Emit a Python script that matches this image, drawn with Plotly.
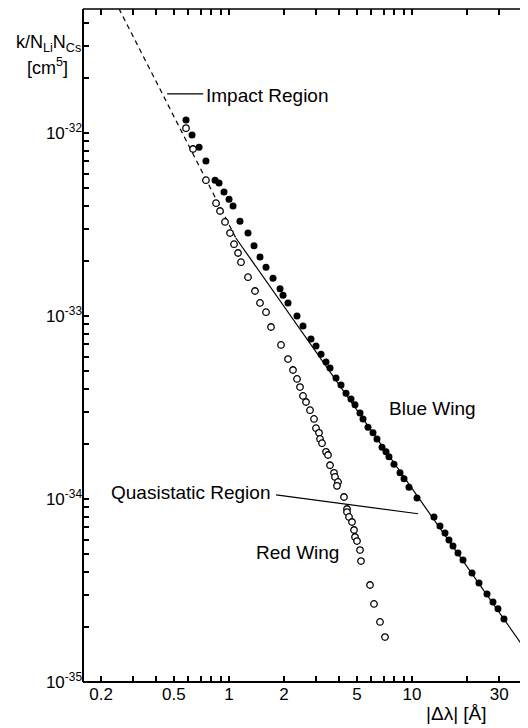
import plotly.graph_objects as go

# ---- data ----
blue_dl = [0.582, 0.628, 0.686, 0.748, 0.839, 0.882, 0.939, 1.0, 1.052, 1.148,
           1.270, 1.370, 1.477, 1.593, 1.740, 1.900, 1.973, 2.101, 2.353, 2.537,
           2.806, 2.988, 3.183, 3.389, 3.564, 3.844, 4.093, 4.359, 4.642, 4.881,
           5.198, 5.398, 5.748, 6.122, 6.436, 6.857, 7.210, 7.486, 7.972, 8.600,
           9.044, 9.630, 10.65, 13.19, 14.22, 15.15, 15.93, 16.75, 17.84, 19.00,
           21.28, 23.24, 25.70, 27.71, 29.51, 31.82]
blue_k = [1.178e-32, 9.75e-33, 8.37e-33, 7.03e-33, 5.53e-33, 5.33e-33, 4.76e-33, 4.35e-33, 3.99e-33, 3.30e-33,
          2.84e-33, 2.42e-33, 2.10e-33, 1.85e-33, 1.61e-33, 1.41e-33, 1.30e-33, 1.18e-33, 1.00e-33, 8.81e-34,
          7.48e-34, 6.86e-34, 6.19e-34, 5.61e-34, 5.20e-34, 4.58e-34, 4.20e-34, 3.79e-34, 3.52e-34, 3.27e-34,
          2.95e-34, 2.74e-34, 2.47e-34, 2.30e-34, 2.13e-34, 1.92e-34, 1.81e-34, 1.70e-34, 1.55e-34, 1.39e-34,
          1.29e-34, 1.16e-34, 1.012e-34, 7.98e-35, 7.12e-35, 6.52e-35, 5.97e-35, 5.53e-35, 5.07e-35, 4.64e-35,
          3.94e-35, 3.48e-35, 3.03e-35, 2.74e-35, 2.51e-35, 2.21e-35]

red_dl = [0.582, 0.636, 0.748, 0.849, 0.893, 0.951, 1.013, 1.065, 1.120, 1.163,
          1.270, 1.387, 1.477, 1.593, 1.696, 1.924, 2.101, 2.237, 2.353, 2.443,
          2.537, 2.635, 2.771, 2.914, 2.988, 3.103, 3.143, 3.223, 3.389, 3.475,
          3.564, 3.748, 3.795, 3.941, 3.892, 4.250, 4.413, 4.413, 4.526, 4.700,
          4.820, 4.881, 5.006, 5.198, 5.265, 5.895, 6.199, 6.685, 7.119]
red_k = [1.064e-32, 8.18e-33, 5.53e-33, 4.14e-33, 3.75e-33, 3.27e-33, 2.84e-33, 2.47e-33, 2.21e-33, 1.97e-33,
         1.63e-33, 1.37e-33, 1.18e-33, 1.05e-33, 8.71e-34, 6.95e-34, 5.82e-34, 5.07e-34, 4.53e-34, 4.09e-34,
         3.66e-34, 3.39e-34, 3.06e-34, 2.74e-34, 2.44e-34, 2.30e-34, 2.13e-34, 2.02e-34, 1.81e-34, 1.74e-34,
         1.53e-34, 1.39e-34, 1.32e-34, 1.24e-34, 1.18e-34, 1.026e-34, 8.82e-35, 8.49e-35, 7.98e-35, 7.49e-35,
         6.77e-35, 6.20e-35, 5.89e-35, 5.26e-35, 4.58e-35, 3.39e-35, 2.67e-35, 2.13e-35, 1.76e-35]

impact_dl = [0.25, 1.09]
impact_k = [4.8e-32, 2.67e-33]
quasi_dl = [1.09, 44.0]
quasi_k = [2.67e-33, 1.39e-35]

x_major = [0.2, 0.5, 1, 2, 5, 10, 30]
x_major_text = ["0.2", "0.5", "1", "2", "5", "10", "30"]
x_minor = [0.3, 0.4, 0.6, 0.7, 0.8, 0.9, 3, 4, 6, 7, 8, 9, 20]
y_major = [1e-35, 1e-34, 1e-33, 1e-32]
y_major_text = ["10<sup>-35</sup>", "10<sup>-34</sup>", "10<sup>-33</sup>", "10<sup>-32</sup>"]
y_minor = [2e-35, 3e-35, 4e-35, 5e-35, 6e-35, 7e-35, 8e-35, 9e-35,
           2e-34, 3e-34, 4e-34, 5e-34, 6e-34, 7e-34, 8e-34, 9e-34,
           2e-33, 3e-33, 4e-33, 5e-33, 6e-33, 7e-33, 8e-33, 9e-33,
           2e-32, 3e-32, 4e-32]

FONT = "Liberation Sans, Arial, Helvetica, sans-serif"

fig = go.Figure()
fig.add_trace(go.Scatter(x=impact_dl, y=impact_k, mode="lines",
                         line=dict(color="black", width=1.2, dash="5px,4px"), showlegend=False))
fig.add_trace(go.Scatter(x=quasi_dl, y=quasi_k, mode="lines",
                         line=dict(color="black", width=1.2), showlegend=False))
fig.add_trace(go.Scatter(x=blue_dl, y=blue_k, mode="markers",
                         marker=dict(size=7, color="black", line=dict(width=0)), showlegend=False))
fig.add_trace(go.Scatter(x=red_dl, y=red_k, mode="markers",
                         marker=dict(size=6.5, color="white", line=dict(color="black", width=1.3)),
                         showlegend=False))

tick_common = dict(ticks="inside", ticklen=6, tickwidth=1.5, tickcolor="black",
                   showline=False, mirror="allticks", showgrid=False, zeroline=False,
                   tickfont=dict(family=FONT, size=17, color="black"))
fig.update_xaxes(type="log", range=[-0.798, 1.634], tickmode="array", tickvals=x_major,
                 ticktext=x_major_text,
                 minor=dict(tickmode="array", tickvals=x_minor, ticks="inside", ticklen=6,
                            tickwidth=1.5, tickcolor="black", showgrid=False),
                 **tick_common)
fig.update_yaxes(type="log", range=[-35, -31.322], tickmode="array", tickvals=y_major,
                 ticktext=y_major_text, ticklabelstandoff=0,
                 minor=dict(tickmode="array", tickvals=y_minor, ticks="inside", ticklen=6,
                            tickwidth=1.5, tickcolor="black", showgrid=False),
                 **tick_common)

shapes = [
    dict(type="line", xref="paper", yref="paper", x0=0, x1=0, y0=0, y1=1, line=dict(color="black", width=2)),
    dict(type="line", xref="paper", yref="paper", x0=0, x1=1, y0=0, y1=0, line=dict(color="black", width=2)),
    dict(type="line", xref="paper", yref="paper", x0=0, x1=1, y0=1, y1=1, line=dict(color="black", width=1.5)),
    dict(type="line", xref="paper", yref="paper", x0=0.189, x1=0.270, y0=0.874, y1=0.874,
         line=dict(color="black", width=1.2)),
    dict(type="line", xref="paper", yref="paper", x0=0.434, x1=0.753, y0=0.278, y1=0.250,
         line=dict(color="black", width=1.2)),
]

ann_font = dict(family=FONT, size=19, color="black")
annotations = [
    dict(text="Impact Region", x=0.272, y=0.872, xanchor="left", yanchor="middle"),
    dict(text="Blue Wing", x=0.683, y=0.406, xanchor="left", yanchor="middle"),
    dict(text="Quasistatic Region", x=0.059, y=0.281, xanchor="left", yanchor="middle"),
    dict(text="Red Wing", x=0.385, y=0.192, xanchor="left", yanchor="middle"),
    dict(text="k/N<sub>Li</sub>N<sub>Cs</sub>", x=0.0, y=0.949, xanchor="right", yanchor="middle",
         font=dict(family=FONT, size=18, color="black")),
    dict(text="[cm<sup>5</sup>]", x=-0.131, y=0.914, xanchor="left", yanchor="middle",
         font=dict(family=FONT, size=18, color="black")),
    dict(text="|Δλ| [Å]", x=0.767, y=-0.0475, xanchor="left", yanchor="middle"),
]
for a in annotations:
    a.update(xref="paper", yref="paper", showarrow=False)
    a.setdefault("font", ann_font)

# page body has an 8px margin: figure is 520x720 so the plot lands where the reference has it
fig.update_layout(width=520, height=720, margin=dict(l=75, r=0, t=1, b=46),
                  paper_bgcolor="white", plot_bgcolor="white",
                  shapes=shapes, annotations=annotations, showlegend=False)

fig.write_html("out.html")
